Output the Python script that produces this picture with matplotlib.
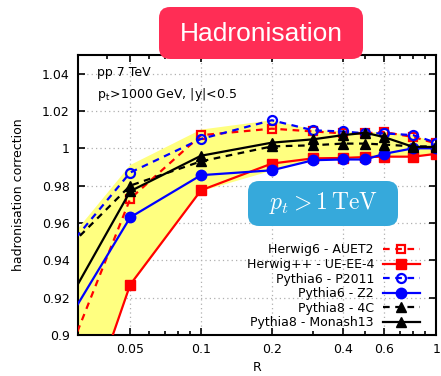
import numpy as np
import matplotlib
matplotlib.use('Agg')
import matplotlib.pyplot as plt
import matplotlib.ticker as ticker
from matplotlib.patches import FancyBboxPatch

# jet radius R (first point lies left of the visible range)
R = [0.02, 0.05, 0.1, 0.2, 0.3, 0.4, 0.5, 0.6, 0.8, 1.0]

herwig6_auet2 = [0.847, 0.973, 1.007, 1.0105, 1.009, 1.008, 1.008, 1.0087, 1.006, 1.0026]
herwigpp_ueee4 = [0.782, 0.927, 0.9775, 0.9918, 0.9946, 0.9948, 0.9953, 0.9955, 0.9955, 0.997]
pythia6_p2011 = [0.927, 0.987, 1.005, 1.015, 1.0096, 1.009, 1.008, 1.008, 1.007, 1.003]
pythia6_z2 = [0.880, 0.963, 0.9856, 0.9882, 0.9936, 0.994, 0.994, 0.997, 1.0, 1.0]
pythia8_4c = [0.930, 0.980, 0.993, 1.001, 1.0016, 1.0025, 1.0025, 1.002, 1.001, 1.001]
pythia8_monash = [0.888, 0.977, 0.996, 1.003, 1.0048, 1.007, 1.0083, 1.006, 1.0007, 1.0007]

band_hi = [0.930, 0.991, 1.010, 1.015, 1.010, 1.009, 1.0085, 1.0087, 1.007, 1.003]
band_lo = [0.780, 0.926, 0.977, 0.988, 0.9936, 0.994, 0.994, 0.9955, 0.9955, 0.997]

x_ticks = [0.05, 0.1, 0.2, 0.4, 0.6, 1.0]
x_ticklabels = ['0.05', '0.1', '0.2', '0.4', '0.6', '1']
y_ticks = [0.9, 0.92, 0.94, 0.96, 0.98, 1.0, 1.02, 1.04]
y_ticklabels = ['0.9', '0.92', '0.94', '0.96', '0.98', '1', '1.02', '1.04']

plt.rcParams['font.family'] = 'DejaVu Sans'
plt.rcParams['mathtext.fontset'] = 'cm'

fig = plt.figure(figsize=(4.41, 3.76), dpi=100)
ax = fig.add_axes([0.177, 0.109, 0.812, 0.745])

ax.fill_between(R, band_lo, band_hi, color='#ffff80', lw=0, zorder=1)

ax.plot(R, herwig6_auet2, color='red', ls=(0, (3, 2.5)), lw=1.6, marker='s', ms=6,
        mfc='none', mew=1.6, label='Herwig6 - AUET2', zorder=3)
ax.plot(R, herwigpp_ueee4, color='red', ls='-', lw=1.6, marker='s', ms=7,
        label='Herwig++ - UE-EE-4', zorder=3)
ax.plot(R, pythia6_p2011, color='blue', ls=(0, (3, 2.5)), lw=1.6, marker='o', ms=6.5,
        mfc='none', mew=1.6, label='Pythia6 - P2011', zorder=3)
ax.plot(R, pythia6_z2, color='blue', ls='-', lw=1.6, marker='o', ms=7.5,
        label='Pythia6 - Z2', zorder=3)
ax.plot(R, pythia8_4c, color='black', ls=(0, (3, 2.5)), lw=1.6, marker='^', ms=7,
        label='Pythia8 - 4C', zorder=4)
ax.plot(R, pythia8_monash, color='black', ls='-', lw=1.6, marker='^', ms=7.5,
        label='Pythia8 - Monash13', zorder=4)

ax.set_xscale('log')
ax.set_xlim(0.03, 1.0)
ax.set_ylim(0.9, 1.05)

ax.xaxis.set_major_locator(ticker.FixedLocator(x_ticks))
ax.xaxis.set_major_formatter(ticker.FixedFormatter(x_ticklabels))
ax.xaxis.set_minor_locator(ticker.FixedLocator([0.03, 0.04, 0.06, 0.07, 0.08, 0.09, 0.3, 0.5, 0.7, 0.8, 0.9]))
ax.xaxis.set_minor_formatter(ticker.NullFormatter())
ax.yaxis.set_major_locator(ticker.FixedLocator(y_ticks))
ax.yaxis.set_major_formatter(ticker.FixedFormatter(y_ticklabels))

ax.tick_params(which='both', direction='in', top=True, right=True, labelsize=9, width=1.2)
ax.tick_params(which='major', length=5, pad=6)
ax.tick_params(which='minor', length=3)
for s in ax.spines.values():
    s.set_linewidth(1.5)

ax.grid(which='major', axis='both', color='#b0b0b0', ls=(0, (1, 2.5)), lw=0.9, zorder=0)
ax.set_axisbelow(True)

ax.set_xlabel('R', fontsize=9, labelpad=3)
ax.set_ylabel('hadronisation correction', fontsize=9, labelpad=12)

ax.text(0.052, 0.936, 'pp 7 TeV', transform=ax.transAxes, fontsize=9, va='center')
ax.text(0.052, 0.857, r'p$_\mathregular{t}$>1000 GeV, |y|<0.5', transform=ax.transAxes,
        fontsize=9, va='center')

leg = ax.legend(loc='lower right', bbox_to_anchor=((420 - 78) / 358, 0.02), frameon=False,
                markerfirst=False, fontsize=9, handlelength=3.0, labelspacing=0.13,
                borderaxespad=0, borderpad=0, handletextpad=0.7)
for t in leg.get_texts():
    t.set_ha('right')

# title box
fig.patches.append(FancyBboxPatch((159 / 441, 1 - 59 / 376), 204 / 441, 52 / 376,
                                  boxstyle='round,pad=0.0,rounding_size=0.025',
                                  transform=fig.transFigure, facecolor='#ff2d55',
                                  edgecolor='none', zorder=10, mutation_aspect=441 / 376))
fig.text(261 / 441, 1 - 34 / 376, 'Hadronisation', color='white', fontsize=19,
         family='Liberation Sans', ha='center', va='center', zorder=11)

# pt box
fig.patches.append(FancyBboxPatch((248 / 441, 1 - 226 / 376), 150 / 441, 45 / 376,
                                  boxstyle='round,pad=0.0,rounding_size=0.025',
                                  transform=fig.transFigure, facecolor='#36a9db',
                                  edgecolor='none', zorder=10, mutation_aspect=441 / 376))
fig.text(323 / 441, 1 - 203 / 376, r'$p_t > 1\,\mathrm{TeV}$', color='white', fontsize=17,
         ha='center', va='center', zorder=11)

fig.savefig('out.png', dpi=100)
